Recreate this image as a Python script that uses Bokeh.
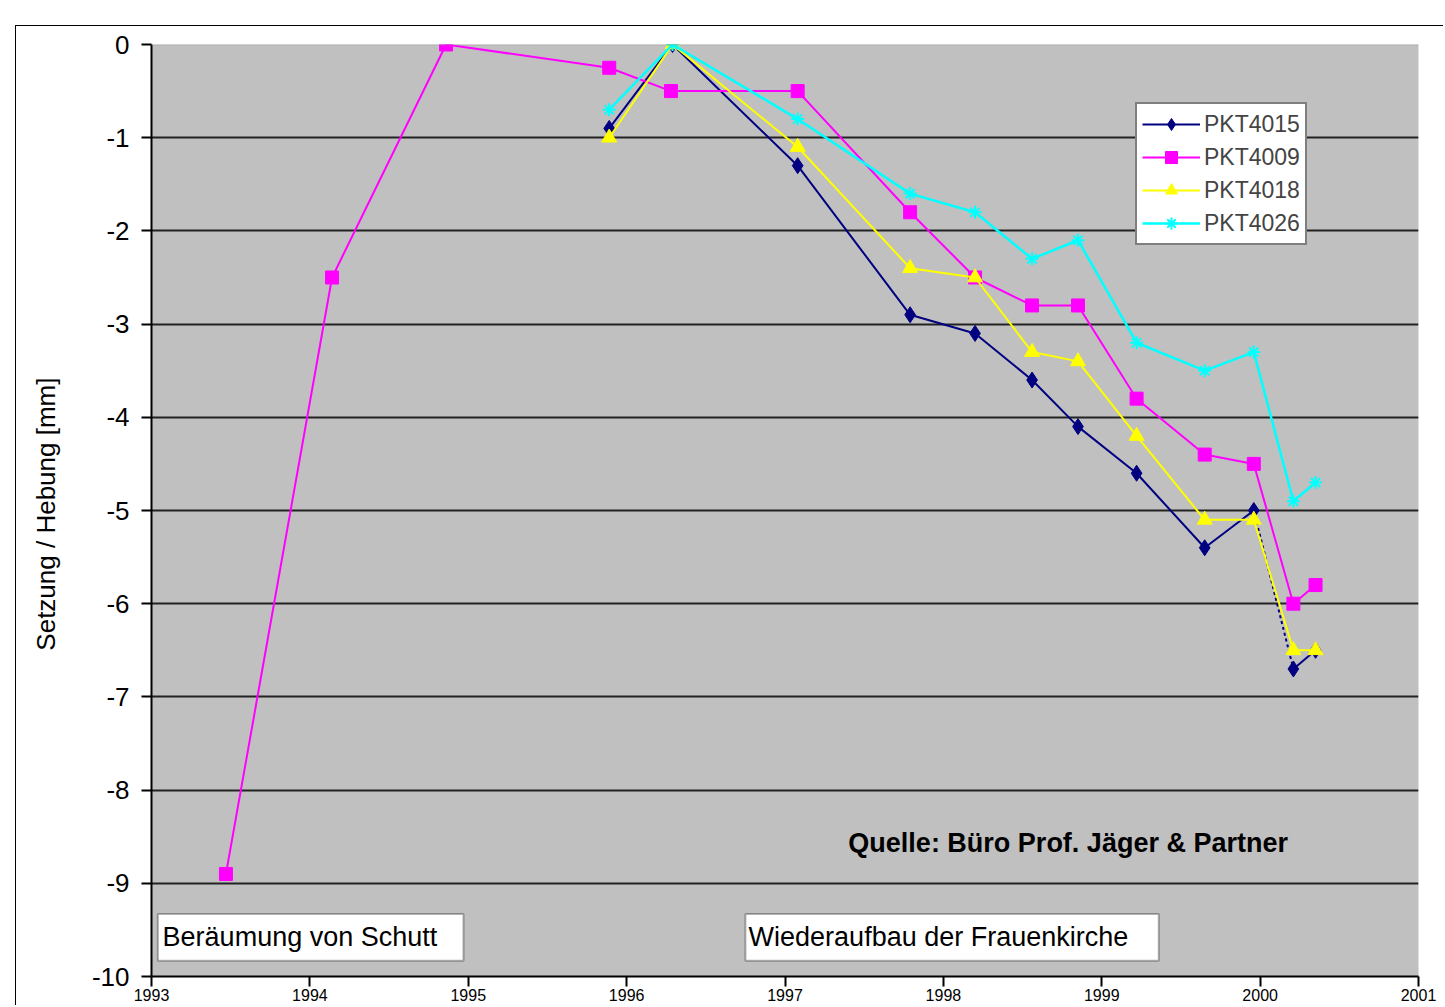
from bokeh.plotting import figure
from bokeh.models import FixedTicker, Legend, LegendItem, Label, BoxAnnotation
from bokeh.embed import file_html
from bokeh.resources import INLINE

# ---- data ----
years_tick = [1993, 1994, 1995, 1996, 1997, 1998, 1999, 2000, 2001]
tick_labels = ["1993", "1994", "1995", "1996", "1997", "1998", "1999", "2000", "2001"]

t_4009 = [1993.47, 1994.14, 1994.86, 1995.89, 1996.28, 1997.08, 1997.79, 1998.20,
          1998.56, 1998.85, 1999.22, 1999.65, 1999.96, 2000.21, 2000.35]
v_4009 = [-8.9, -2.5, 0.0, -0.25, -0.5, -0.5, -1.8, -2.5, -2.8, -2.8, -3.8, -4.4,
          -4.5, -6.0, -5.8]

t_common = [1995.89, 1996.29, 1997.08, 1997.79, 1998.20, 1998.56, 1998.85, 1999.22,
            1999.65, 1999.96, 2000.21, 2000.35]
v_4015 = [-0.9, 0.0, -1.3, -2.9, -3.1, -3.6, -4.1, -4.6, -5.4, -5.0, -6.7, -6.5]
v_4018 = [-1.0, 0.0, -1.1, -2.4, -2.5, -3.3, -3.4, -4.2, -5.1, -5.1, -6.5, -6.5]
v_4026 = [-0.7, 0.0, -0.8, -1.6, -1.8, -2.3, -2.1, -3.2, -3.5, -3.3, -4.9, -4.7]

y_ticks = [0, -1, -2, -3, -4, -5, -6, -7, -8, -9, -10]

FONT = "Liberation Sans"
W, H = 1428, 980

p = figure(width=W, height=H, output_backend="svg", toolbar_location=None,
           x_range=(1993, 2001), y_range=(-10, 0),
           min_border_left=135, min_border_top=18, min_border_right=26,
           min_border_bottom=30)
# outer chart-area frame: black line on the top and the left
p.styles = {"position": "relative", "left": "15px", "top": "25px",
            "border-left": "1px solid black", "border-top": "1px solid black"}

p.background_fill_color = "#c0c0c0"
p.border_fill_color = "white"
p.outline_line_color = None

p.xgrid.grid_line_color = None
p.ygrid.grid_line_color = "#222222"
p.ygrid.grid_line_width = 2
p.ygrid.ticker = FixedTicker(ticks=y_ticks[1:])

p.yaxis.ticker = FixedTicker(ticks=y_ticks)
p.yaxis.major_label_overrides = {t: str(t) for t in y_ticks}
p.xaxis.ticker = FixedTicker(ticks=years_tick)
p.xaxis.major_label_overrides = dict(zip(years_tick, tick_labels))

for ax in (p.xaxis[0], p.yaxis[0]):
    ax.axis_line_color = "black"
    ax.axis_line_width = 2
    ax.major_tick_line_color = "black"
    ax.major_tick_line_width = 2
    ax.major_tick_out = 10
    ax.major_tick_in = 0
    ax.minor_tick_line_color = None
    ax.major_label_text_font = FONT
    ax.major_label_text_color = "black"

p.yaxis.major_label_text_font_size = "26px"
p.yaxis.major_label_standoff = 12
p.xaxis.major_label_text_font_size = "16px"
p.xaxis.major_label_standoff = 2

p.yaxis.axis_label = "Setzung / Hebung  [mm]"
p.yaxis.axis_label_text_font = FONT
p.yaxis.axis_label_text_font_style = "normal"
p.yaxis.axis_label_text_font_size = "26px"
p.yaxis.axis_label_text_color = "black"
p.yaxis.axis_label_standoff = 28

# thin grey line at the top of the plot area (value 0)
p.add_layout(BoxAnnotation(top=0, bottom=0, fill_alpha=0, line_color="#8a8a8a",
                           line_width=2))

# ---- series ----
l15 = p.line(t_common[:10], v_4015[:10], line_color="#000080", line_width=2)
p.line(t_common[9:11], v_4015[9:11], line_color="#000080", line_width=2, line_dash="3 3")
p.line(t_common[10:], v_4015[10:], line_color="#000080", line_width=2)
m15 = p.scatter(t_common, v_4015, marker="diamond", size=16, fill_color="#000080",
                line_color="#000080")

l09 = p.line(t_4009, v_4009, line_color="#ff00ff", line_width=2)
m09 = p.scatter(t_4009, v_4009, marker="square", size=13, fill_color="#ff00ff",
                line_color="#ff00ff")

l18 = p.line(t_common, v_4018, line_color="#ffff00", line_width=2)
m18 = p.scatter(t_common, v_4018, marker="triangle", size=15, fill_color="#ffff00",
                line_color="#ffff00")

l26 = p.line(t_common, v_4026, line_color="#00ffff", line_width=2.5)
m26 = p.scatter(t_common, v_4026, marker="asterisk", size=13, line_color="#00ffff",
                line_width=2)

legend = Legend(items=[
    LegendItem(label="PKT4015", renderers=[l15, m15]),
    LegendItem(label="PKT4009", renderers=[l09, m09]),
    LegendItem(label="PKT4018", renderers=[l18, m18]),
    LegendItem(label="PKT4026", renderers=[l26, m26]),
], location=(984, 731))
legend.background_fill_color = "white"
legend.background_fill_alpha = 1
legend.border_line_color = "black"
legend.border_line_width = 2
legend.label_text_font = FONT
legend.label_text_font_size = "23px"
legend.label_height = 30
legend.glyph_height = 30
legend.glyph_width = 58
legend.label_standoff = 4
legend.spacing = 3
legend.padding = 5
legend.margin = 0
p.add_layout(legend)

# ---- annotation boxes ----
p.add_layout(BoxAnnotation(left=1993.04, right=1994.97, top=-9.33, bottom=-9.83,
                           fill_color="white", fill_alpha=1, line_color="black",
                           line_width=2))
p.add_layout(BoxAnnotation(left=1996.75, right=1999.36, top=-9.33, bottom=-9.83,
                           fill_color="white", fill_alpha=1, line_color="black",
                           line_width=2))
p.add_layout(Label(x=1993.07, y=-9.58, text="Beräumung von Schutt", text_font=FONT,
                   text_font_size="27px", text_baseline="middle", text_color="black"))
p.add_layout(Label(x=1996.77, y=-9.58, text="Wiederaufbau der Frauenkirche",
                   text_font=FONT, text_font_size="27px", text_baseline="middle",
                   text_color="black"))
p.add_layout(Label(x=1997.40, y=-8.57, text="Quelle: Büro Prof. Jäger & Partner",
                   text_font=FONT, text_font_size="27px", text_font_style="bold",
                   text_baseline="middle", text_color="black"))

open("out.html", "w").write(file_html(p, INLINE))
